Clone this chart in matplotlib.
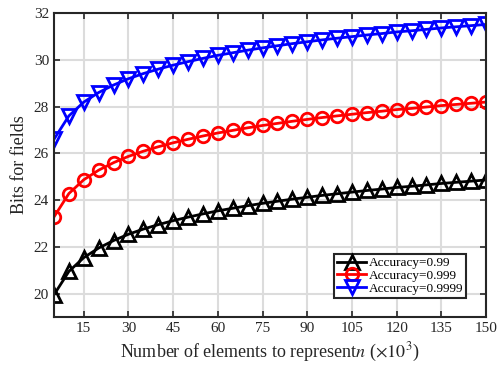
import matplotlib
matplotlib.use("Agg")
import matplotlib.pyplot as plt

plt.rcParams['font.family'] = ['Liberation Serif', 'DejaVu Serif']
plt.rcParams['mathtext.fontset'] = 'stix'

n_values = [5, 10, 15, 20, 25, 30, 35, 40, 45, 50, 55, 60, 65, 70, 75,
            80, 85, 90, 95, 100, 105, 110, 115, 120, 125, 130, 135, 140, 145, 150]
acc_099 = [19.95, 20.95, 21.54, 21.95, 22.27, 22.54, 22.76, 22.95, 23.12, 23.27,
           23.41, 23.54, 23.65, 23.76, 23.86, 23.95, 24.04, 24.12, 24.20, 24.27,
           24.34, 24.41, 24.47, 24.54, 24.59, 24.65, 24.71, 24.76, 24.81, 24.86]
acc_0999 = [23.28, 24.28, 24.87, 25.28, 25.60, 25.87, 26.09, 26.28, 26.45, 26.60,
            26.74, 26.87, 26.98, 27.09, 27.19, 27.28, 27.37, 27.45, 27.53, 27.60,
            27.67, 27.74, 27.80, 27.87, 27.92, 27.98, 28.04, 28.09, 28.14, 28.19]
acc_09999 = [26.60, 27.60, 28.19, 28.60, 28.92, 29.19, 29.41, 29.60, 29.77, 29.92,
             30.06, 30.19, 30.30, 30.41, 30.51, 30.60, 30.69, 30.77, 30.85, 30.92,
             30.99, 31.06, 31.12, 31.19, 31.24, 31.30, 31.36, 31.41, 31.46, 31.51]
labels = ['Accuracy=0.99', 'Accuracy=0.999', 'Accuracy=0.9999']
x_ticks = [15, 30, 45, 60, 75, 90, 105, 120, 135, 150]
y_ticks = [20, 22, 24, 26, 28, 30, 32]

fig = plt.figure(figsize=(4.98, 3.70), dpi=100)
ax = fig.add_axes([0.1084, 0.1432, 0.8676, 0.8217])

ax.plot(n_values, acc_099, color='black', lw=2, marker='^', ms=10,
        mfc='none', mec='black', mew=2, label=labels[0])
ax.plot(n_values, acc_0999, color='red', lw=2, marker='o', ms=9,
        mfc='none', mec='red', mew=2, label=labels[1])
ax.plot(n_values, acc_09999, color='blue', lw=2, marker='v', ms=10,
        mfc='none', mec='blue', mew=2, label=labels[2])

ax.set_xlim(5, 150)
ax.set_ylim(19, 32)
ax.set_xticks(x_ticks)
ax.set_yticks(y_ticks)
ax.grid(True, color='#dcdcdc', lw=1.5)
ax.set_axisbelow(True)
for s in ax.spines.values():
    s.set_linewidth(1.5)
    s.set_color('#262626')
ax.tick_params(direction='in', top=True, right=True, length=4, width=1.2,
               labelsize=11, colors='#262626', labelcolor='#262626')
ax.set_xlabel(r'Number of elements to represent$n$ ($\times 10^3$)', fontsize=13, color='#262626')
ax.set_ylabel('Bits for fields', fontsize=13, color='#262626')

leg = ax.legend(loc='lower right', fontsize=9.5, frameon=True, fancybox=False,
                edgecolor='#262626', framealpha=1, handlelength=2.2,
                borderpad=0.25, labelspacing=0.05, handletextpad=0.2,
                bbox_to_anchor=(0.97, 0.04))
leg.get_frame().set_linewidth(1.5)

fig.savefig('out.png', dpi=100)
